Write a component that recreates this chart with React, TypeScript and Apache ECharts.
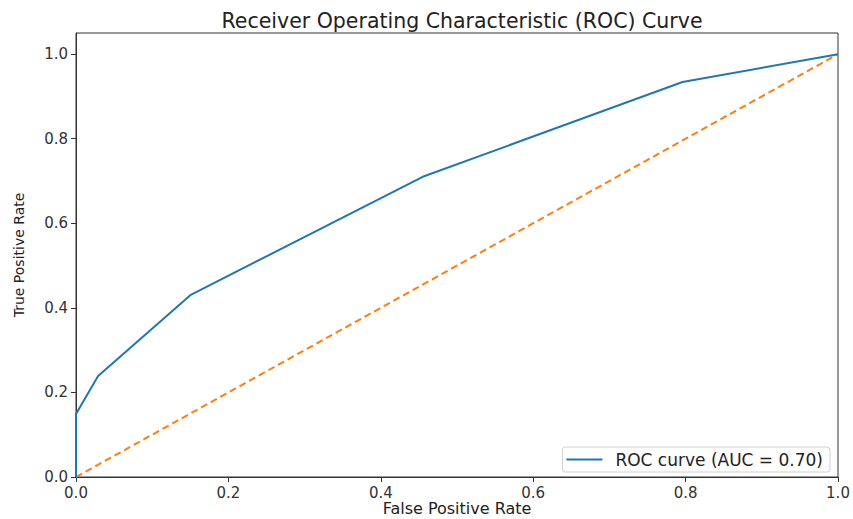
import React, { useEffect, useRef } from "react";
import * as echarts from "echarts";

const fpr = [0, 0, 0.029, 0.15, 0.455, 0.796, 1];
const tpr = [0, 0.149, 0.239, 0.43, 0.71, 0.934, 1];
const diagX = [0, 1];
const diagY = [0, 1];
const titleText = "Receiver Operating Characteristic (ROC) Curve";
const legendName = "ROC curve (AUC = 0.70)";

export default function App() {
  const ref = useRef<HTMLDivElement>(null);
  useEffect(() => {
    if (!ref.current) return;
    const chart = echarts.init(ref.current, null, { renderer: "svg" });
    const font = "DejaVu Sans";
    const axisCommon = {
      type: "value" as const,
      min: 0,
      interval: 0.2,
      splitLine: { show: false },
      axisLine: { show: true, lineStyle: { color: "#333", width: 1 } },
      axisTick: { show: true, length: 5, lineStyle: { color: "#333" } },
      nameLocation: "middle" as const,
    };
    chart.setOption({
      animation: false,
      backgroundColor: "#fff",
      title: {
        text: titleText,
        left: 457,
        textAlign: "center",
        top: 5,
        textStyle: { fontFamily: font, fontSize: 20.5, fontWeight: "normal", color: "#222" },
      },
      grid: {
        left: 76,
        right: 15,
        top: 33,
        bottom: 42,
        show: true,
        borderColor: "#333",
        borderWidth: 1,
        outerBoundsMode: "none",
        containLabel: false,
      },
      legend: {
        right: 23,
        bottom: 47,
        orient: "vertical",
        data: [{ name: legendName, icon: "rect" }],
        itemWidth: 36,
        itemHeight: 2,
        itemGap: 12,
        borderColor: "#d0d0d0",
        borderWidth: 1,
        borderRadius: 3,
        padding: [4, 7, 4, 4],
        textStyle: { fontFamily: font, fontSize: 17, color: "#222", padding: [0, 0, 0, 8] },
      },
      xAxis: {
        ...axisCommon,
        max: 1,
        name: "False Positive Rate",
        nameGap: 23,
        nameMoveOverlap: false,
        nameTextStyle: {
          fontFamily: font,
          fontSize: 16,
          lineHeight: 16,
          verticalAlign: "top",
          color: "#222",
        },
        axisLabel: {
          fontFamily: font,
          fontSize: 15,
          color: "#333",
          margin: 8,
          formatter: (v: number) => v.toFixed(1),
        },
      },
      yAxis: {
        ...axisCommon,
        max: 1.05,
        name: "True Positive Rate",
        nameGap: 50,
        nameMoveOverlap: false,
        nameTextStyle: { fontFamily: font, fontSize: 14, color: "#222" },
        axisLabel: {
          fontFamily: font,
          fontSize: 15,
          color: "#333",
          margin: 8,
          showMaxLabel: false,
          formatter: (v: number) => (v > 1.0001 ? "" : v.toFixed(1)),
        },
      },
      series: [
        {
          name: legendName,
          type: "line",
          data: fpr.map((x, i) => [x, tpr[i]]),
          showSymbol: false,
          symbol: "none",
          lineStyle: { color: "#1f77b4", width: 2 },
          itemStyle: { color: "#1f77b4" },
          z: 3,
        },
        {
          name: "diag",
          type: "line",
          data: diagX.map((x, i) => [x, diagY[i]]),
          showSymbol: false,
          symbol: "none",
          lineStyle: { color: "#ff7f0e", width: 2, type: [7, 4] },
          itemStyle: { color: "#ff7f0e" },
          z: 2,
        },
      ],
    });
    return () => chart.dispose();
  }, []);
  return (
    <div
      ref={ref}
      style={{ position: "fixed", left: 0, top: 0, width: 853, height: 519 }}
    />
  );
}
